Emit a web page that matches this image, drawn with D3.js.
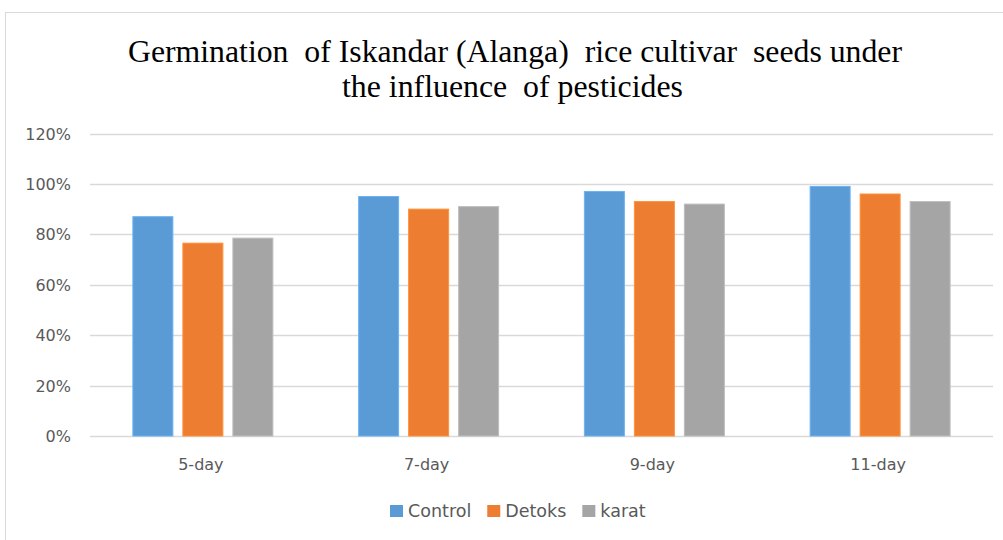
<!DOCTYPE html>
<html>
<head>
<meta charset="utf-8">
<script src="https://cdn.jsdelivr.net/npm/d3@7"></script>
<style>
  body { margin: 0; background: #fff; }
  svg { display: block; }
</style>
</head>
<body>
<script>
// data
var days = ["5-day", "7-day", "9-day", "11-day"];
var seriesNames = ["Control", "Detoks", "karat"];
var control = [0.87, 0.95, 0.97, 0.99];
var detoks = [0.765, 0.90, 0.93, 0.96];
var karat = [0.785, 0.91, 0.92, 0.93];
var colors = ["#5B9BD5", "#ED7D31", "#A5A5A5"];
var yTicks = [0, 0.2, 0.4, 0.6, 0.8, 1.0, 1.2];
var titleLines = ["Germination  of Iskandar (Alanga)  rice cultivar  seeds under", "the influence  of pesticides"];

var values = [control, detoks, karat];

var W = 1003, H = 540;
var svg = d3.select("body").append("svg").attr("width", W).attr("height", H);

// chart frame
svg.append("rect")
  .attr("x", 5.5).attr("y", 12.5)
  .attr("width", W - 4).attr("height", H - 10)
  .style("fill", "#fff")
  .style("stroke", "#d9d9d9")
  .style("stroke-width", "1px");

// title (stretched a little to match the original's width)
var titleLen = [774, 341];
var titleX = [515, 512.5];
svg.selectAll("text.title").data(titleLines).enter().append("text")
  .attr("class", "title")
  .attr("x", function(d, i){ return titleX[i]; })
  .attr("y", function(d, i){ return 62 + i * 35; })
  .attr("text-anchor", "middle")
  .attr("font-family", "'Liberation Serif', serif")
  .attr("font-size", "31px")
  .attr("textLength", function(d, i){ return titleLen[i]; })
  .attr("lengthAdjust", "spacingAndGlyphs")
  .style("fill", "#000")
  .style("white-space", "pre")
  .text(function(d){ return d; });

var y = d3.scaleLinear().domain([0, 1.2]).range([436, 133.5]);
var x0 = d3.scaleBand().domain(days).range([90, 993]);
var groupW = 140;
var x1 = d3.scaleBand().domain(seriesNames).range([0, groupW]).paddingInner(0.2);

// gridlines
svg.append("g").selectAll("line").data(yTicks).enter().append("line")
  .attr("x1", 90).attr("x2", 993)
  .attr("y1", function(d){ return Math.round(y(d)) + 0.5; })
  .attr("y2", function(d){ return Math.round(y(d)) + 0.5; })
  .style("stroke", "#d9d9d9")
  .style("stroke-width", "1.5px");

// y labels
svg.append("g").selectAll("text").data(yTicks).enter().append("text")
  .attr("x", 71)
  .attr("y", function(d){ return y(d) + 6; })
  .attr("text-anchor", "end")
  .attr("font-family", "'DejaVu Sans', sans-serif")
  .attr("font-size", "16px")
  .style("fill", "#595959")
  .text(function(d){ return d3.format(".0%")(d); });

// bars
var groups = svg.append("g").selectAll("g").data(days).enter().append("g")
  .attr("transform", function(d){ return "translate(" + (x0(d) + (x0.bandwidth() - groupW) / 2) + ",0)"; });

groups.selectAll("rect")
  .data(function(d, i){ return seriesNames.map(function(s, k){ return {s: s, k: k, v: values[k][i]}; }); })
  .enter().append("rect")
  .attr("x", function(d){ return x1(d.s); })
  .attr("y", function(d){ return y(d.v); })
  .attr("width", x1.bandwidth())
  .attr("height", function(d){ return y(0) - y(d.v); })
  .style("fill", function(d){ return colors[d.k]; })
  .style("stroke", function(d){ return d3.color(colors[d.k]).brighter(0.4); })
  .style("stroke-width", "1px");

// x labels
svg.append("g").selectAll("text").data(days).enter().append("text")
  .attr("x", function(d){ return x0(d) + x0.bandwidth() / 2 - 2; })
  .attr("y", 470)
  .attr("text-anchor", "middle")
  .attr("font-family", "'DejaVu Sans', sans-serif")
  .attr("font-size", "16px")
  .style("fill", "#595959")
  .text(function(d){ return d; });

// legend
var legend = svg.append("g");
var lx = 390;
seriesNames.forEach(function(s, k){
  legend.append("rect")
    .attr("x", lx).attr("y", 505)
    .attr("width", 13).attr("height", 12)
    .style("fill", colors[k]);
  var t = legend.append("text")
    .attr("x", lx + 18).attr("y", 517)
    .attr("font-family", "'DejaVu Sans', sans-serif")
    .attr("font-size", "17.5px")
    .style("fill", "#595959")
    .text(s);
  lx += 18 + t.node().getComputedTextLength() + 16;
});
</script>
</body>
</html>
